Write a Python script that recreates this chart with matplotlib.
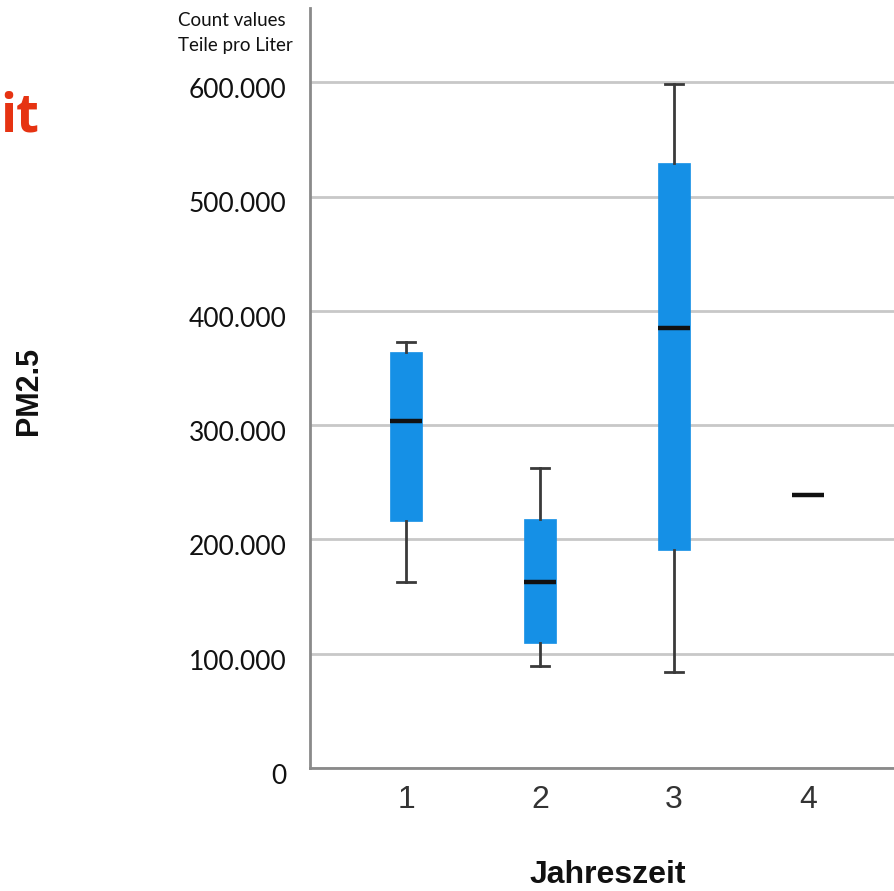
import matplotlib
matplotlib.use("Agg")
import matplotlib.pyplot as plt
import matplotlib.transforms as mtransforms

# Data
categories = ["1", "2", "3", "4"]
whisker_low = [162700, 89200, 83900, 238500]
q1 = [216100, 109400, 190400, 238500]
median = [303600, 162700, 384700, 238500]
q3 = [364000, 217800, 528900, 238500]
whisker_high = [372700, 262500, 598000, 238500]
y_ticks = [0, 100000, 200000, 300000, 400000, 500000, 600000]
y_tick_labels = ["0", "100.000", "200.000", "300.000", "400.000", "500.000", "600.000"]

W, H = 895, 891
fig = plt.figure(figsize=(W / 100, H / 100), dpi=100)
ax = fig.add_axes([310 / W, (H - 768) / H, 1 - 310 / W, (768 - 8) / H])

stats = []
for i, c in enumerate(categories):
    stats.append(dict(label=c, whislo=whisker_low[i], q1=q1[i], med=median[i],
                      q3=q3[i], whishi=whisker_high[i], fliers=[]))

positions = list(range(1, len(categories) + 1))
single = [i for i in range(len(categories)) if q1[i] == q3[i] == whisker_low[i] == whisker_high[i]]
bp = ax.bxp(stats, positions=positions, widths=0.246, patch_artist=True,
            showfliers=False,
            boxprops=dict(facecolor="#1590e6", edgecolor="#1590e6", linewidth=0.5),
            medianprops=dict(color="#111111", linewidth=3.2, solid_capstyle="butt"),
            whiskerprops=dict(color="#3a3a3a", linewidth=2),
            capprops=dict(color="#3a3a3a", linewidth=2),
            capwidths=0.13, zorder=3)
for i in single:
    bp["whiskers"][2 * i].set_visible(False)
    bp["whiskers"][2 * i + 1].set_visible(False)
    bp["caps"][2 * i].set_visible(False)
    bp["caps"][2 * i + 1].set_visible(False)
    bp["boxes"][i].set_visible(False)

ax.set_xlim(1 - 96 / 134, 4 + 87 / 134)
ax.set_ylim(0, 760 / 114.3 * 100000)

ax.set_yticks(y_ticks)
ax.set_yticklabels(y_tick_labels, fontsize=19, family="Lato", color="#111111")
ax.set_xticks(positions)
ax.set_xticklabels(categories, fontsize=23, family="Liberation Sans", color="#333333")
ax.tick_params(axis="y", length=0, pad=17)
ax.tick_params(axis="x", length=0, pad=12)
offset = mtransforms.ScaledTranslation(0, -6 / 100, fig.dpi_scale_trans)
for lbl in ax.get_yticklabels():
    lbl.set_transform(lbl.get_transform() + offset)

ax.grid(axis="y", color="#c8c8c8", linewidth=2, zorder=0)
ax.set_axisbelow(True)
for s in ["top", "right"]:
    ax.spines[s].set_visible(False)
for s in ["left", "bottom"]:
    ax.spines[s].set_color("#8a8a8a")
    ax.spines[s].set_linewidth(2)

fig.text(608 / W, 1 - 875 / H, "Jahreszeit", ha="center", va="center",
         fontsize=23, fontweight="bold", family="Liberation Sans", color="#111111")
fig.text(29 / W, 1 - 391 / H, "PM2.5", ha="center", va="center", rotation=90,
         fontsize=22, fontweight="bold", family="Liberation Sans", color="#111111")
fig.text(178 / W, 1 - 20 / H, "Count values", ha="left", va="center",
         fontsize=13.5, family="Lato", color="#111111")
fig.text(178 / W, 1 - 45 / H, "Teile pro Liter", ha="left", va="center",
         fontsize=13.5, family="Lato", color="#111111")
fig.text(0, 1 - 117 / H, "it", ha="left", va="center",
         fontsize=38, fontweight="bold", family="Open Sans", color="#e63312")

fig.savefig("out.png", dpi=100)
